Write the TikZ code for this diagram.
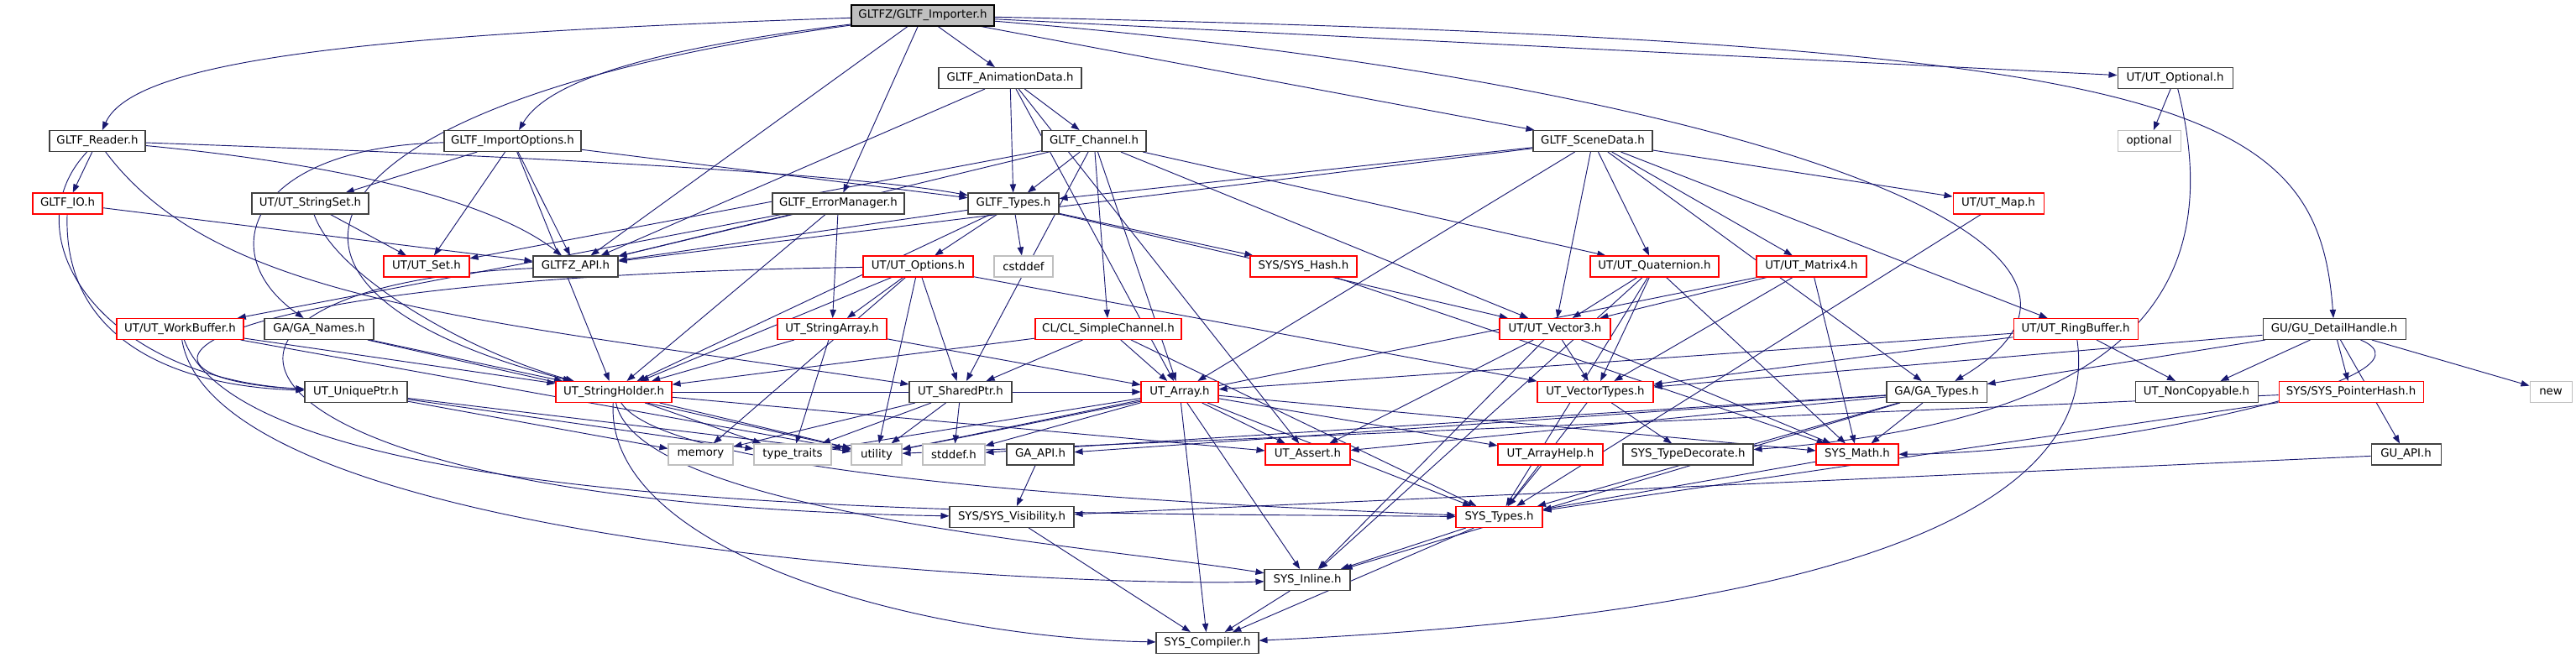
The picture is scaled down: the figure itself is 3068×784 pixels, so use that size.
\documentclass[tikz,border=0pt]{standalone}
\usepackage{fontspec}
\setmainfont{DejaVu Sans}
\usetikzlibrary{arrows.meta,backgrounds}

\definecolor{edgeblue}{HTML}{191970}
\definecolor{boxgray}{HTML}{404040}
\definecolor{extgray}{HTML}{BFBFBF}
\definecolor{truncred}{HTML}{FF0000}

\tikzset{
  hdr/.style={draw=boxgray, fill=white, line width=0.8pt, inner sep=0pt,
    minimum height=18.75pt, minimum width=#1*0.75pt,
    font=\fontsize{10}{12}\selectfont},
  trunc/.style={draw=truncred},
  sysinc/.style={draw=extgray},
  rootfile/.style={fill=extgray, draw=black},
  dep/.style={draw=edgeblue, line width=0.7pt,
    -{Triangle[length=7.5pt,width=5.5pt]}},
}

\begin{document}
\begin{tikzpicture}[x=0.75pt,y=-0.75pt]
  \useasboundingbox (0,0) rectangle (3068,784);

  % rows 0-3
  \node[hdr=170, rootfile] (imp)   at (1099,18.5) {GLTFZ/GLTF\_Importer.h};
  \node[hdr=170]           (anim)  at (1203,93)   {GLTF\_AnimationData.h};
  \node[hdr=137]           (optl)  at (2590.5,93) {UT/UT\_Optional.h};
  \node[hdr=114]           (rdr)   at (116,168)   {GLTF\_Reader.h};
  \node[hdr=163]           (iopt)  at (610.5,168) {GLTF\_ImportOptions.h};
  \node[hdr=124]           (chan)  at (1303,168)  {GLTF\_Channel.h};
  \node[hdr=142]           (scn)   at (1897,168)  {GLTF\_SceneData.h};
  \node[hdr=75, sysinc]    (optstd) at (2559.5,168) {optional};
  \node[hdr=83, trunc]     (gio)   at (80.5,242.5) {GLTF\_IO.h};
  \node[hdr=139]           (sset)  at (369.5,242.5) {UT/UT\_StringSet.h};
  \node[hdr=157]           (err)   at (998.5,242.5) {GLTF\_ErrorManager.h};
  \node[hdr=108]           (gtyp)  at (1207,242.5) {GLTF\_Types.h};
  \node[hdr=108, trunc]    (umap)  at (2380,242.5) {UT/UT\_Map.h};

  % rows 4-6
  \node[hdr=102, trunc]    (uset)  at (508,317.5)  {UT/UT\_Set.h};
  \node[hdr=101]           (gapi)  at (685.5,317.5) {GLTFZ\_API.h};
  \node[hdr=131, trunc]    (uopts) at (1093.5,317.5) {UT/UT\_Options.h};
  \node[hdr=70, sysinc]    (cstddef) at (1219,317.5) {cstddef};
  \node[hdr=127, trunc]    (shash) at (1552.5,317.5) {SYS/SYS\_Hash.h};
  \node[hdr=153, trunc]    (quat)  at (1970.5,317.5) {UT/UT\_Quaternion.h};
  \node[hdr=131, trunc]    (mat4)  at (2157.5,317.5) {UT/UT\_Matrix4.h};
  \node[hdr=151, trunc]    (wbuf)  at (214.5,392) {UT/UT\_WorkBuffer.h};
  \node[hdr=130]           (gnames) at (380,392)  {GA/GA\_Names.h};
  \node[hdr=130, trunc]    (sarr)  at (991,392)   {UT\_StringArray.h};
  \node[hdr=174, trunc]    (schan) at (1320,392)  {CL/CL\_SimpleChannel.h};
  \node[hdr=132, trunc]    (vec3)  at (1852,392)  {UT/UT\_Vector3.h};
  \node[hdr=148, trunc]    (ring)  at (2472,392)  {UT/UT\_RingBuffer.h};
  \node[hdr=170]           (dhandle) at (2780,392) {GU/GU\_DetailHandle.h};
  \node[hdr=122]           (uptr)  at (424,467)   {UT\_UniquePtr.h};
  \node[hdr=138, trunc]    (sholder) at (731,467) {UT\_StringHolder.h};
  \node[hdr=122]           (sptr)  at (1144,467)  {UT\_SharedPtr.h};
  \node[hdr=92, trunc]     (uarr)  at (1405,467)  {UT\_Array.h};
  \node[hdr=138, trunc]    (vtypes) at (1900,467) {UT\_VectorTypes.h};
  \node[hdr=119]           (gatypes) at (2306.5,467) {GA/GA\_Types.h};
  \node[hdr=146]           (noncopy) at (2616,467) {UT\_NonCopyable.h};
  \node[hdr=172, trunc]    (phash) at (2800,467)  {SYS/SYS\_PointerHash.h};
  \node[hdr=50, sysinc]    (stdnew) at (3038,467) {new};

  % rows 7-10
  \node[hdr=77, sysinc]    (mem)    at (834.5,541.5) {memory};
  \node[hdr=92, sysinc]    (ttraits) at (944,541.5) {type\_traits};
  \node[hdr=60, sysinc]    (util)   at (1044,541.5) {utility};
  \node[hdr=74, sysinc]    (stddef) at (1136,541.5) {stddef.h};
  \node[hdr=80]            (gaapi)  at (1239,541.5) {GA\_API.h};
  \node[hdr=101, trunc]    (uassert) at (1557.5,541.5) {UT\_Assert.h};
  \node[hdr=125, trunc]    (ahelp)  at (1846.5,541.5) {UT\_ArrayHelp.h};
  \node[hdr=155]           (tdec)   at (2010.5,541.5) {SYS\_TypeDecorate.h};
  \node[hdr=98, trunc]     (smath)  at (2212,541.5) {SYS\_Math.h};
  \node[hdr=83]            (guapi)  at (2865.5,541.5) {GU\_API.h};
  \node[hdr=148]           (svis)   at (1205,616) {SYS/SYS\_Visibility.h};
  \node[hdr=103, trunc]    (stypes) at (1785.5,616) {SYS\_Types.h};
  \node[hdr=102]           (sinline) at (1557,691) {SYS\_Inline.h};
  \node[hdr=122]           (scomp)  at (1438,766) {SYS\_Compiler.h};

  % include edges
  \begin{scope}[on background layer]
    \draw[dep] (imp) .. controls (450,40) and (160,70) .. (rdr);
    \draw[dep] (imp) .. controls (760,60) and (650,100) .. (iopt);
    \draw[dep] (imp) .. controls (350,120) and (240,340) .. (sholder);
    \draw[dep] (imp) .. controls (2000,90) and (2620,280) .. (gatypes);
    \draw[dep] (imp) .. controls (2600,50) and (2760,120) .. (dhandle);
    \foreach \t in {gapi,err,anim,scn,optl}
      \draw[dep] (imp) -- (\t);
    \foreach \t in {chan,gtyp,gapi,uarr,uassert}
      \draw[dep] (anim) -- (\t);
    \draw[dep] (rdr) .. controls (10,280) and (120,450) .. (uptr);
    \draw[dep] (rdr) .. controls (260,360) and (560,380) .. (sptr);
    \draw[dep] (rdr) .. controls (450,200) and (600,250) .. (gapi);
    \draw[dep] (rdr) .. controls (600,185) and (1000,205) .. (gtyp);
    \draw[dep] (rdr) -- (gio);
    \draw[dep] (iopt) .. controls (300,175) and (250,300) .. (gnames);
    \foreach \t in {sset,uset,gapi,gtyp,sholder}
      \draw[dep] (iopt) -- (\t);
    \foreach \t in {gtyp,gapi,uset,sptr,schan,uarr,quat,vec3}
      \draw[dep] (chan) -- (\t);
    \foreach \t in {gtyp,gapi,uarr,vec3,quat,mat4,umap,ring,gatypes}
      \draw[dep] (scn) -- (\t);
    \draw[dep] (optl) -- (optstd);
    \draw[dep] (optl) .. controls (2650,330) and (2560,500) .. (tdec);
    \draw[dep] (dhandle) .. controls (2920,450) and (2500,540) .. (smath);
    \foreach \t in {gatypes,noncopy,phash,stdnew,guapi,vtypes}
      \draw[dep] (dhandle) -- (\t);
    \draw[dep] (gio) .. controls (75,400) and (200,460) .. (uptr);
    \draw[dep] (gio) -- (gapi);
    \draw[dep] (sset) -- (uset);
    \draw[dep] (sset) .. controls (400,330) and (560,420) .. (sholder);
    \foreach \t in {gapi,sholder,sarr,wbuf}
      \draw[dep] (err) -- (\t);
    \foreach \t in {uopts,cstddef,shash,vec3,gapi,sholder}
      \draw[dep] (gtyp) -- (\t);
    \draw[dep] (uopts) .. controls (200,330) and (110,450) .. (uptr);
    \foreach \t in {sarr,sholder,sptr,util,mem,vtypes}
      \draw[dep] (uopts) -- (\t);
    \draw[dep] (wbuf) .. controls (300,620) and (1200,610) .. (stypes);
    \draw[dep] (wbuf) .. controls (260,660) and (1300,700) .. (sinline);
    \foreach \t in {sholder,util}
      \draw[dep] (wbuf) -- (\t);
    \foreach \t in {sholder,util}
      \draw[dep] (gnames) -- (\t);
    \foreach \t in {mem,ttraits,util}
      \draw[dep] (uptr) -- (\t);
    \draw[dep] (sholder) .. controls (720,660) and (1100,760) .. (scomp);
    \draw[dep] (sholder) .. controls (760,610) and (1300,650) .. (sinline);
    \draw[dep] (sholder) .. controls (800,570) and (1400,600) .. (stypes);
    \foreach \t in {util,ttraits,uarr,uassert}
      \draw[dep] (sholder) -- (\t);
    \foreach \t in {sholder,uarr,ttraits}
      \draw[dep] (sarr) -- (\t);
    \foreach \t in {sholder,sptr,uarr,stypes}
      \draw[dep] (schan) -- (\t);
    \foreach \t in {mem,ttraits,util,stddef}
      \draw[dep] (sptr) -- (\t);
    \foreach \t in {util,ttraits,stddef,uassert,ahelp,stypes,sinline,scomp,smath}
      \draw[dep] (uarr) -- (\t);
    \foreach \t in {vtypes,uassert,sinline,smath}
      \draw[dep] (vec3) -- (\t);
    \foreach \t in {vec3,vtypes,smath,stypes,sinline}
      \draw[dep] (quat) -- (\t);
    \foreach \t in {vec3,vtypes,smath,util}
      \draw[dep] (mat4) -- (\t);
    \foreach \t in {gaapi,uassert,smath,stypes,sinline,stddef}
      \draw[dep] (gatypes) -- (\t);
    \foreach \t in {stypes,util}
      \draw[dep] (phash) -- (\t);
    \draw[dep] (ring) .. controls (2510,660) and (2000,740) .. (scomp);
    \foreach \t in {uarr,vtypes,noncopy}
      \draw[dep] (ring) -- (\t);
    \foreach \t in {stypes,tdec}
      \draw[dep] (vtypes) -- (\t);
    \foreach \t in {sinline,scomp}
      \draw[dep] (stypes) -- (\t);
    \draw[dep] (shash) -- (smath);
    \draw[dep] (umap) -- (stypes);
    \draw[dep] (ahelp) -- (stypes);
    \draw[dep] (smath) -- (stypes);
    \draw[dep] (sinline) -- (scomp);
    \draw[dep] (svis) -- (scomp);
    \draw[dep] (gaapi) -- (svis);
    \draw[dep] (guapi) -- (svis);
    \draw[dep] (gapi) .. controls (150,340) and (220,600) .. (svis);
  \end{scope}
\end{tikzpicture}
\end{document}
